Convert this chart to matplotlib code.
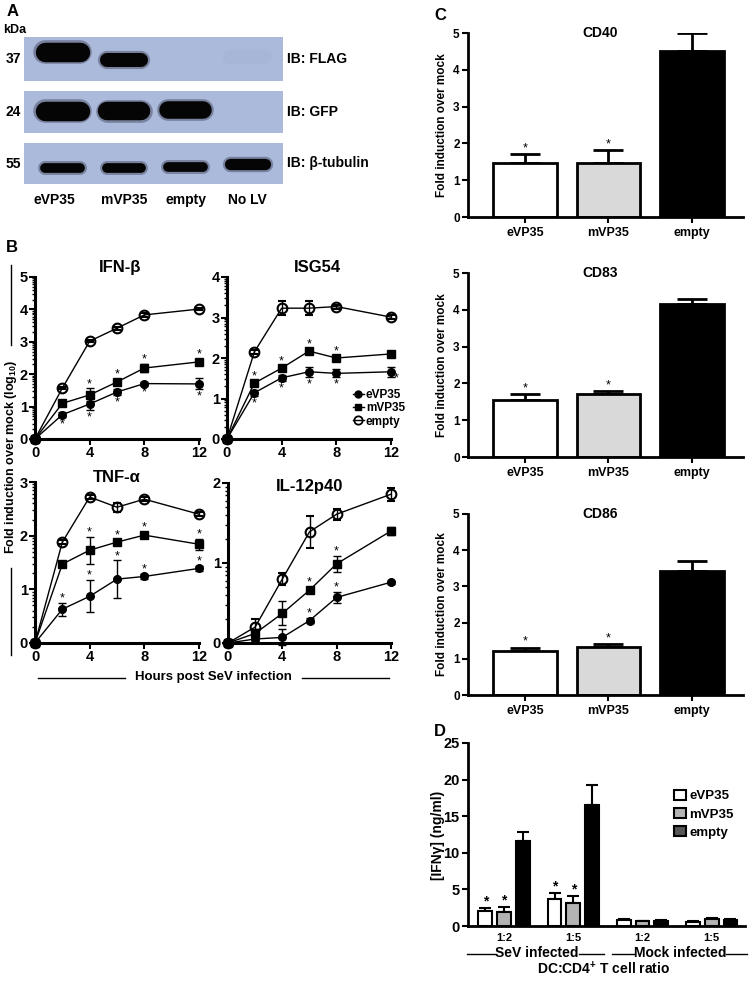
import numpy as np
import matplotlib
matplotlib.use('Agg')
import matplotlib.pyplot as plt
from matplotlib.lines import Line2D
from matplotlib.patches import Patch

plt.rcParams['font.family'] = ['Liberation Sans', 'DejaVu Sans']
plt.rcParams['font.weight'] = 'bold'
plt.rcParams['mathtext.fontset'] = 'custom'
plt.rcParams['mathtext.rm'] = 'Liberation Sans:bold'
plt.rcParams['mathtext.bf'] = 'Liberation Sans:bold'
plt.rcParams['mathtext.it'] = 'Liberation Sans:bold'
plt.rcParams['mathtext.default'] = 'rm'

# ---------------- data ----------------
# Panel A (western blot)
lanes = ['eVP35', 'mVP35', 'empty', 'No LV']
blots = ['IB: FLAG', 'IB: GFP', 'IB: β-tubulin']
kda = ['37', '24', '55']
band_signal = [[1.0, 0.72, 0.0, 0.02],
               [1.0, 0.95, 0.9, 0.0],
               [0.5, 0.5, 0.5, 0.58]]
band_migration = [[0.34, 0.52, 0.50, 0.45],
                  [0.48, 0.48, 0.46, 0.50],
                  [0.60, 0.60, 0.58, 0.50]]

# Panel B (time courses)
times = [0, 2, 4, 6, 8, 12]
series_names = ['eVP35', 'mVP35', 'empty']

ifnb_vals = [[0, 0.75, 1.08, 1.45, 1.71, 1.70],
             [0, 1.10, 1.36, 1.76, 2.19, 2.38],
             [0, 1.57, 3.02, 3.42, 3.83, 4.01]]
ifnb_errs = [[0, 0.08, 0.18, 0.10, 0.06, 0.17],
             [0, 0.05, 0.20, 0.10, 0.12, 0.10],
             [0, 0.04, 0.04, 0.05, 0.05, 0.04]]
ifnb_stars = [(1, 2, 'above'), (1, 3, 'above'), (1, 4, 'above'), (1, 5, 'above'),
              (0, 1, 'below'), (0, 2, 'below'), (0, 3, 'below'), (0, 4, 'below'), (0, 5, 'below')]

isg_vals = [[0, 1.14, 1.51, 1.66, 1.62, 1.66],
            [0, 1.38, 1.75, 2.17, 2.00, 2.10],
            [0, 2.15, 3.23, 3.23, 3.27, 3.01]]
isg_errs = [[0, 0.08, 0.08, 0.13, 0.10, 0.13],
            [0, 0.06, 0.06, 0.05, 0.05, 0.05],
            [0, 0.05, 0.18, 0.18, 0.05, 0.05]]
isg_stars = [(1, 1, 'above'), (1, 2, 'above'), (1, 3, 'above'), (1, 4, 'above'),
             (0, 1, 'below'), (0, 2, 'below'), (0, 3, 'below'), (0, 4, 'below'), (0, 5, 'right')]

tnf_vals = [[0, 0.63, 0.87, 1.19, 1.24, 1.39],
            [0, 1.47, 1.73, 1.88, 2.01, 1.84],
            [0, 1.88, 2.72, 2.53, 2.68, 2.40]]
tnf_errs = [[0, 0.12, 0.30, 0.35, 0.04, 0.04],
            [0, 0.03, 0.25, 0.05, 0.06, 0.10],
            [0, 0.03, 0.04, 0.08, 0.04, 0.04]]
tnf_stars = [(1, 2, 'above'), (1, 3, 'above'), (1, 4, 'above'), (1, 5, 'above'),
             (0, 1, 'above'), (0, 2, 'above'), (0, 3, 'above'), (0, 4, 'above'), (0, 5, 'above')]

il12_vals = [[0, 0.05, 0.07, 0.28, 0.57, 0.76],
             [0, 0.12, 0.37, 0.66, 0.99, 1.40],
             [0, 0.20, 0.80, 1.39, 1.61, 1.86]]
il12_errs = [[0, 0.02, 0.10, 0.03, 0.07, 0.02],
             [0, 0.05, 0.15, 0.04, 0.10, 0.05],
             [0, 0.10, 0.08, 0.20, 0.07, 0.08]]
il12_stars = [(1, 3, 'above'), (1, 4, 'above'), (0, 3, 'above'), (0, 4, 'above')]

# Panel C (surface markers)
conditions = ['eVP35', 'mVP35', 'empty']
cd40_vals = [1.46, 1.46, 4.52]
cd40_errs = [0.25, 0.35, 0.48]
cd83_vals = [1.55, 1.70, 4.17]
cd83_errs = [0.15, 0.10, 0.13]
cd86_vals = [1.22, 1.33, 3.43]
cd86_errs = [0.09, 0.08, 0.28]
c_stars = [True, True, False]

# Panel D (IFN-gamma)
d_groups = ['1:2', '1:5', '1:2', '1:5']
ifng_vals = [[2.10, 3.70, 0.85, 0.55],
             [1.95, 3.20, 0.65, 0.95],
             [11.65, 16.50, 0.70, 0.80]]
ifng_errs = [[0.40, 0.85, 0.08, 0.08],
             [0.70, 0.90, 0.08, 0.10],
             [1.15, 2.70, 0.10, 0.10]]
ifng_stars = [[True, True, False, False],
              [True, True, False, False],
              [False, False, False, False]]

# ---------------- figure ----------------
W, H = 750, 981
fig = plt.figure(figsize=(W / 100, H / 100), dpi=100)


def px_box(l, t, r, b):
    return [l / W, 1 - b / H, (r - l) / W, (b - t) / H]


def fx(x):
    return x / W


def fy(y):
    return 1 - y / H


def fig_line(x0, y0, x1, y1, lw=1.0):
    fig.add_artist(Line2D([fx(x0), fx(x1)], [fy(y0), fy(y1)], color='k', lw=lw))


# panel letters
for letter, (x, y) in zip('ABCD', [(13, 12), (12, 247), (440, 16), (440, 732)]):
    fig.text(fx(x), fy(y), letter, fontsize=12, ha='center', va='center')

# ---------------- Panel A ----------------
fig.text(fx(15), fy(30), 'kDa', fontsize=9, ha='center', va='center')
strip_px = [(37, 81), (91, 133), (143, 184)]
blot_axes = []
for i, (t, b) in enumerate(strip_px):
    ax = fig.add_axes(px_box(24, t, 283, b))
    ax.set_facecolor('#abb9db')
    ax.set_xlim(-0.62, 3.58)
    ax.set_ylim(1, 0)
    for j in range(len(lanes)):
        s = band_signal[i][j]
        if s <= 0:
            continue
        if s > 0.2:
            lw, alpha = 14 * s, 1.0
        else:
            lw, alpha = 10, 0.15 * s / 0.2
        y = band_migration[i][j]
        # soft halo then dense core
        ax.plot([j - 0.28, j + 0.28], [y, y], color='#1a1a2a', lw=lw + 3, alpha=alpha * 0.35,
                solid_capstyle='round')
        ax.plot([j - 0.28, j + 0.28], [y, y], color='#050505', lw=lw, alpha=alpha,
                solid_capstyle='round')
    ax.set_xticks([])
    ax.set_yticks([])
    for sp in ax.spines.values():
        sp.set_visible(False)
    fig.text(fx(13), fy((t + b) / 2), kda[i], ha='center', va='center', fontsize=10)
    fig.text(fx(287), fy((t + b) / 2), blots[i], ha='left', va='center', fontsize=10)
    blot_axes.append(ax)
for j, lane in enumerate(lanes):
    blot_axes[-1].text(j - 0.12 if j == 0 else j, -0.38, lane, transform=blot_axes[-1].get_xaxis_transform(),
                       ha='center', va='center', fontsize=10)

# ---------------- Panel B ----------------
markers = ['o', 's', 'o']
mfcs = ['k', 'k', 'none']


def line_panel(box, title, title_pos, ymax, vals, errs, stars, legend=False):
    ax = fig.add_axes(px_box(*box))
    for k in range(3):
        ax.errorbar(times, vals[k], yerr=errs[k], fmt='-', marker=markers[k], color='k',
                    mfc=mfcs[k], mec='k', ms=5.5 if k < 2 else 7, mew=1.0 if k < 2 else 1.5,
                    lw=1.0, elinewidth=1.0, capsize=3, capthick=1.0, clip_on=False, zorder=3)
    for (k, i, pos) in stars:
        v, e = vals[k][i], errs[k][i]
        if pos == 'above':
            ax.annotate('*', (times[i], v + e), xytext=(0, 1), textcoords='offset points',
                        ha='center', va='baseline', fontsize=9, fontweight='normal',
                        annotation_clip=False)
        elif pos == 'below':
            ax.annotate('*', (times[i], v - e), xytext=(0, -1), textcoords='offset points',
                        ha='center', va='top', fontsize=9, fontweight='normal',
                        annotation_clip=False)
        else:
            ax.annotate('*', (times[i], v - e), xytext=(2, 3), textcoords='offset points',
                        ha='left', va='top', fontsize=9, fontweight='normal',
                        annotation_clip=False)
    ax.set_xlim(0, 12)
    ax.set_ylim(0, ymax)
    ax.set_xticks([0, 4, 8, 12])
    ax.set_yticks(range(ymax + 1))
    minors = [d + np.log10(k) for d in range(ymax) for k in range(2, 10)]
    ax.set_yticks(minors, minor=True)
    for s in ['top', 'right']:
        ax.spines[s].set_visible(False)
    for s in ['left', 'bottom']:
        ax.spines[s].set_linewidth(2.2)
    ax.tick_params(axis='both', which='major', length=4, width=1.5, labelsize=10.5, pad=1)
    ax.tick_params(axis='y', which='minor', length=2, width=1.0)
    ax.text(title_pos[0], title_pos[1], title, transform=ax.transAxes, ha='center',
            va='center', fontsize=12)
    if legend:
        handles = [Line2D([], [], color='k', lw=1, marker=markers[k], mfc=mfcs[k], mec='k',
                          ms=5 if k < 2 else 6, mew=1.0 if k < 2 else 1.3) for k in range(3)]
        ax.legend(handles, series_names, loc='upper left', bbox_to_anchor=(0.768, 0.31),
                  frameon=False, fontsize=8.5, handlelength=0.9, handletextpad=0.2,
                  labelspacing=0.12, borderpad=0, borderaxespad=0)
    return ax


line_panel((35, 277, 199, 439), 'IFN-β', (0.52, 1.06), 5, ifnb_vals, ifnb_errs, ifnb_stars)
line_panel((227, 277, 391, 439), 'ISG54', (0.55, 1.06), 4, isg_vals, isg_errs, isg_stars, legend=True)
line_panel((35, 482, 199, 643), 'TNF-α', (0.50, 1.03), 3, tnf_vals, tnf_errs, tnf_stars)
line_panel((228, 483, 391, 643), 'IL-12p40', (0.50, 0.975), 2, il12_vals, il12_errs, il12_stars)

fig.text(fx(11), fy(457), 'Fold induction over mock (log$_{10}$)', rotation=90,
         ha='center', va='center', fontsize=9)
fig_line(11, 265, 11, 345)
fig_line(11, 568, 11, 655)
fig.text(fx(213), fy(677), 'Hours post SeV infection', ha='center', va='center', fontsize=9.5)
fig_line(38, 678, 125, 678)
fig_line(302, 678, 389, 678)

# ---------------- Panel C ----------------
c_colors = ['white', '#d9d9d9', 'black']


def bar_panel(box, title, vals, errs):
    ax = fig.add_axes(px_box(*box))
    xs = np.arange(len(conditions))
    ax.errorbar(xs, vals, yerr=[np.zeros(len(vals)), errs], fmt='none', ecolor='k',
                elinewidth=2, capsize=11, capthick=2, zorder=1)
    ax.bar(xs, vals, 0.76, color=c_colors, edgecolor='k', linewidth=2, zorder=2)
    for x, v, e, s in zip(xs, vals, errs, c_stars):
        if s:
            ax.annotate('*', (x, v + e), xytext=(0, 2), textcoords='offset points',
                        ha='center', va='baseline', fontsize=9, fontweight='normal')
    ax.set_xlim(-0.68, 2.61)
    ax.set_ylim(0, 5)
    ax.set_xticks(xs)
    ax.set_xticklabels(conditions)
    ax.set_yticks(range(6))
    for s in ['top', 'right']:
        ax.spines[s].set_visible(False)
    for s in ['left', 'bottom']:
        ax.spines[s].set_linewidth(2)
    ax.tick_params(axis='y', length=4, width=1.5, labelsize=8.5, pad=2)
    ax.tick_params(axis='x', length=4, width=1.5, labelsize=9, pad=3)
    ax.text(0.48, 1.0, title, transform=ax.transAxes, ha='center', va='center', fontsize=10)
    t, b = box[1], box[3]
    fig.text(fx(442), fy((t + b) / 2), 'Fold induction over mock', rotation=90,
             ha='center', va='center', fontsize=8.5)
    return ax


bar_panel((468, 33, 743, 217), 'CD40', cd40_vals, cd40_errs)
bar_panel((468, 273, 743, 457), 'CD83', cd83_vals, cd83_errs)
bar_panel((468, 514, 743, 695), 'CD86', cd86_vals, cd86_errs)

# ---------------- Panel D ----------------
axd = fig.add_axes(px_box(468, 743, 745, 926))
d_colors = ['white', '#b3b3b3', 'black']
legend_colors = ['white', '#b3b3b3', '#555555']
offsets = [-0.27, 0.0, 0.27]
gx = np.arange(len(d_groups))
for k in range(3):
    xs = gx + offsets[k]
    axd.errorbar(xs, ifng_vals[k], yerr=[np.zeros(len(d_groups)), ifng_errs[k]], fmt='none',
                 ecolor='k', elinewidth=1.5, capsize=4.5, capthick=1.5, zorder=1)
    axd.bar(xs, ifng_vals[k], 0.2, color=d_colors[k], edgecolor='k', linewidth=1.5, zorder=2)
    for x, v, e, s in zip(xs, ifng_vals[k], ifng_errs[k], ifng_stars[k]):
        if s:
            axd.annotate('*', (x, v + e), xytext=(0, 1.5), textcoords='offset points',
                         ha='center', va='baseline', fontsize=10, fontweight='bold')
axd.set_xlim(-0.52, 3.48)
axd.set_ylim(0, 25)
axd.set_yticks(range(0, 26, 5))
axd.set_xticks(gx)
axd.set_xticklabels(d_groups)
for s in ['top', 'right']:
    axd.spines[s].set_visible(False)
for s in ['left', 'bottom']:
    axd.spines[s].set_linewidth(2)
axd.tick_params(axis='y', length=4, width=1.5, labelsize=10.5, pad=2)
axd.tick_params(axis='x', length=0, labelsize=8, pad=5)
handles = [Patch(facecolor=c, edgecolor='k', linewidth=1.5) for c in legend_colors]
axd.legend(handles, conditions, loc='upper left', bbox_to_anchor=(0.745, 0.745), frameon=False,
           fontsize=9.5, handlelength=0.85, handleheight=0.85, handletextpad=0.3,
           labelspacing=0.4, borderpad=0, borderaxespad=0)
fig.text(fx(438), fy(835), '[IFNγ] (ng/ml)', rotation=90, ha='center', va='center', fontsize=10)

fig.text(fx(537), fy(953), 'SeV infected', ha='center', va='center', fontsize=10)
fig_line(467, 954, 496, 954)
fig_line(579, 954, 604, 954)
fig.text(fx(680), fy(953), 'Mock infected', ha='center', va='center', fontsize=10)
fig_line(612, 954, 634, 954)
fig_line(726, 954, 747, 954)
fig.text(fx(604), fy(969), 'DC:CD4$^{+}$ T cell ratio', ha='center', va='center', fontsize=10)

fig.savefig('out.png', dpi=100)
